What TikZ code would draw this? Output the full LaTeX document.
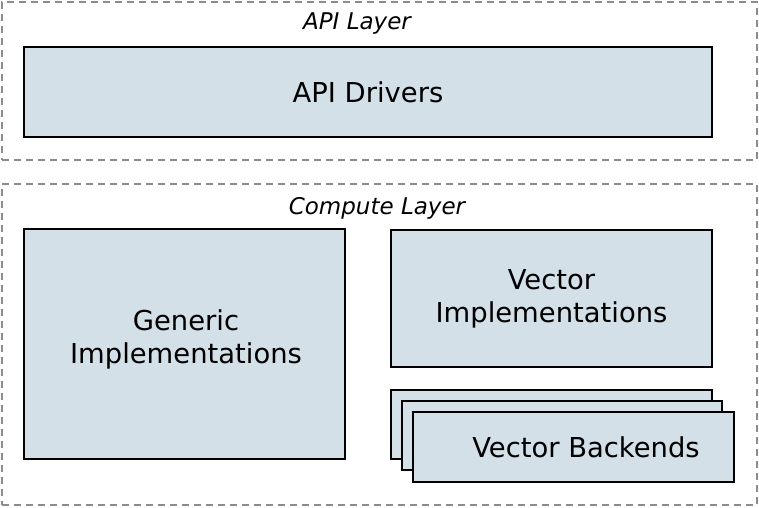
\documentclass[tikz,border=0pt]{standalone}
\usepackage{fontspec}
\setmainfont{DejaVu Sans}
\usepackage{tikz}
\usetikzlibrary{positioning}

\definecolor{boxfill}{HTML}{D4E0E8}
\definecolor{layergray}{HTML}{8C8C8C}

\begin{document}
\begin{tikzpicture}[x=1pt,y=-1pt,
    layer/.style={draw=layergray,line width=2pt,dash pattern=on 7pt off 5pt,inner sep=0pt},
    layerlabel/.style={font=\fontsize{23}{27}\selectfont\itshape},
    block/.style={draw=black,fill=boxfill,line width=2.4pt,inner sep=0pt,align=center,
      font=\fontsize{27.4}{33}\selectfont}]
  \useasboundingbox (0,0) rectangle (759,507);
  %Layers
  \node at (379.5,81) [layer,minimum width=755pt,minimum height=158pt] (apilayer) {};
  \node at (379.5,344.5) [layer,minimum width=755pt,minimum height=321pt] (computelayer) {};
  \node at (357,24) [layerlabel] (apilabel) {API Layer};
  \node at (377,208) [layerlabel] (computelabel) {Compute Layer};

  %Blocks
  \node at (368,92) [block,minimum width=688pt,minimum height=90pt] (drivers) {API Drivers};
  \node at (184.5,344) [block,minimum width=321pt,minimum height=230pt] (generic) {};
  \node at (186,339) [font=\fontsize{27.4}{33}\selectfont,align=center] (generictext) {Generic\\Implementations};
  \node at (551.5,298.5) [block,minimum width=321pt,minimum height=137pt] (vectorimpl) {Vector\\Implementations};

  %Backends (stacked)
  \node at (551.5,424.5) [block,minimum width=321pt,minimum height=69pt] (backend3) {};
  \node at (562,435.5) [block,minimum width=320pt,minimum height=69pt] (backend2) {};
  \node at (573.5,447) [block,minimum width=321pt,minimum height=70pt] (backend1) {};
  \node at (586,447) [font=\fontsize{27.4}{33}\selectfont] (backendtext) {Vector Backends};
\end{tikzpicture}
\end{document}
